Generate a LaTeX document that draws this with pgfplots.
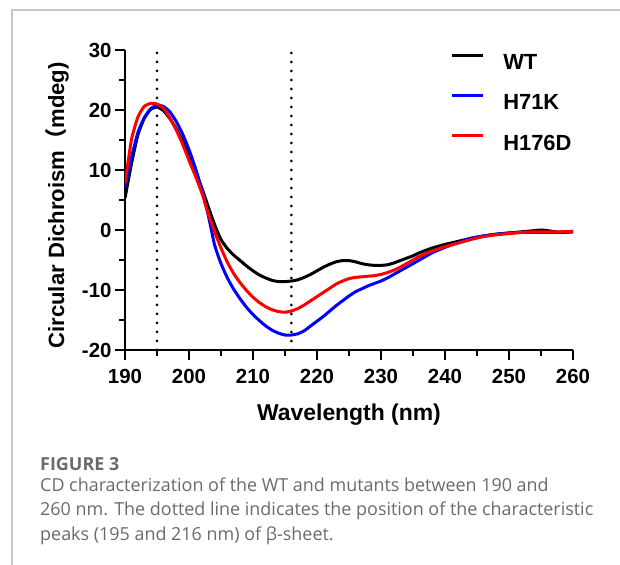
\documentclass[border=0pt]{standalone}
\usepackage{pgfplots}
\pgfplotsset{compat=1.18}
\usepackage{pgfplotstable}
\usepackage{fontspec}
\setmainfont{Liberation Sans}
\newfontfamily\capfont{Open Sans}
\newfontfamily\cjk{Noto Sans CJK SC}
\definecolor{capgray}{HTML}{6A6A6A}
\definecolor{framegray}{HTML}{C8C8C8}
\definecolor{myblue}{HTML}{0000FF}
\definecolor{myred}{HTML}{FF0000}

\pgfplotstableread{
x y
190 5.3
191 11.0
192 15.8
193 18.6
194 20.1
195 20.5
196 19.9
197 18.6
198 16.9
199 14.8
200 12.4
201 9.8
202 7.0
203 3.9
204 0.9
205 -1.6
206 -3.1
207 -4.2
208 -5.1
209 -6.0
210 -6.8
211 -7.5
212 -8.0
213 -8.4
214 -8.6
215 -8.6
216 -8.5
217 -8.3
218 -7.9
219 -7.4
220 -6.8
221 -6.2
222 -5.7
223 -5.3
224 -5.1
225 -5.1
226 -5.3
227 -5.6
228 -5.8
229 -5.9
230 -5.9
231 -5.8
232 -5.5
233 -5.1
234 -4.7
235 -4.3
236 -3.8
238 -3.0
240 -2.4
242 -1.9
244 -1.4
246 -1.0
248 -0.7
250 -0.5
252 -0.3
254 -0.1
255 0.0
256 -0.1
258 -0.4
260 -0.3
}\wt

\pgfplotstableread{
x y
190 7.0
191 12.0
192 16.2
193 18.7
194 20.2
195 20.8
196 20.6
197 19.7
198 18.1
199 16.0
200 13.4
201 10.3
202 6.8
203 2.5
204 -2.5
205 -5.6
206 -8.0
207 -9.9
208 -11.5
209 -12.9
210 -14.1
211 -15.1
212 -16.0
213 -16.7
214 -17.2
215 -17.5
216 -17.5
217 -17.3
218 -16.8
219 -16.0
220 -15.2
221 -14.4
222 -13.5
223 -12.6
224 -11.8
225 -11.0
226 -10.3
227 -9.8
228 -9.3
229 -8.9
230 -8.5
231 -8.0
232 -7.4
233 -6.8
234 -6.2
235 -5.6
236 -5.0
238 -3.8
240 -2.9
242 -2.1
244 -1.4
246 -1.0
248 -0.7
250 -0.5
252 -0.4
254 -0.4
256 -0.4
258 -0.4
260 -0.3
}\hk

\pgfplotstableread{
x y
190 7.8
191 15.0
192 18.8
193 20.6
194 21.1
195 21.0
196 20.3
197 18.7
198 16.7
199 14.3
200 11.6
201 9.0
202 6.2
203 2.8
204 -0.3
205 -3.0
206 -5.4
207 -7.3
208 -8.8
209 -10.1
210 -11.2
211 -12.1
212 -12.8
213 -13.3
214 -13.6
215 -13.7
216 -13.5
217 -13.1
218 -12.5
219 -11.8
220 -11.1
221 -10.4
222 -9.7
223 -9.0
224 -8.5
225 -8.1
226 -7.9
227 -7.8
228 -7.7
229 -7.6
230 -7.4
231 -7.1
232 -6.7
233 -6.2
234 -5.6
235 -5.0
236 -4.4
238 -3.5
240 -2.8
242 -2.2
244 -1.6
246 -1.1
248 -0.8
250 -0.6
252 -0.4
254 -0.3
256 -0.3
258 -0.3
260 -0.2
}\hd

\begin{document}
\begin{tikzpicture}
\useasboundingbox (0,0) rectangle (620bp,565bp);
\draw[framegray, line width=1.5bp] (12bp,0) -- (12bp,555bp) -- (620bp,555bp);
\begin{axis}[
  at={(125bp,215bp)}, anchor=south west,
  width=448bp, height=300bp, scale only axis,
  xmin=190, xmax=260, ymin=-20, ymax=30,
  axis lines*=left,
  axis line style={line width=2.5bp},
  xtick={190,200,...,260}, minor xtick={195,205,...,255},
  ytick={-20,-10,...,30}, minor ytick={-15,-5,...,25},
  tick align=outside,
  major tick length=10bp, minor tick length=6bp,
  every tick/.style={black, line width=2.5bp},
  /pgf/number format/assume math mode=true,
  xticklabel={\pgfmathprintnumber{\tick}},
  yticklabel={\pgfmathprintnumber{\tick}},
  tick label style={font=\fontsize{20.5}{24}\selectfont\bfseries},
  xticklabel style={yshift=-6bp},
  xlabel={Wavelength (nm)},
  ylabel={Circular Dichroism{\cjk （}mdeg)},
  xlabel style={at={(axis description cs:0.5,-0.217)}, anchor=center, font=\fontsize{23}{27}\selectfont\bfseries},
  ylabel style={at={(axis description cs:-0.152,0.482)}, anchor=center, font=\fontsize{22.2}{26}\selectfont\bfseries},
  legend style={draw=none, fill=none, at={(axis description cs:0.719,0.995)}, anchor=north west,
    font=\fontsize{22}{26}\selectfont\bfseries, row sep=23bp, column sep=19bp,
    nodes={inner sep=0pt}},
  legend cell align=left,
  legend image code/.code={\draw[#1, line width=3bp] (0bp,7.5bp) -- (31bp,7.5bp);},
]
\addplot[black, line width=3bp, dash pattern=on 0bp off 9bp, line cap=round, forget plot] coordinates {(195,-20) (195,30)};
\addplot[black, line width=3bp, dash pattern=on 0bp off 9bp, line cap=round, forget plot] coordinates {(216,-20) (216,30)};
\addplot[black, line width=3bp, smooth, tension=0.3, line join=round] table[x=x,y=y] {\wt};
\addplot[myblue, line width=3bp, smooth, tension=0.3, line join=round] table[x=x,y=y] {\hk};
\addplot[myred, line width=3bp, smooth, tension=0.3, line join=round] table[x=x,y=y] {\hd};
\legend{WT, H71K, H176D}
\end{axis}
\node[anchor=base west, capgray, font=\capfont\bfseries\fontsize{18}{21}\selectfont, inner sep=0pt] at (40bp,94bp) {FIGURE 3};
\begin{scope}[every node/.style={anchor=base west, capgray, font=\capfont\fontsize{18}{21}\selectfont, inner sep=0pt}]
\node at (40bp,73bp) {CD characterization of the WT and mutants between 190 and};
\node at (40bp,49bp) {260 nm. The dotted line indicates the position of the characteristic};
\node at (40bp,25bp) {peaks (195 and 216 nm) of β-sheet.};
\end{scope}
\end{tikzpicture}
\end{document}
